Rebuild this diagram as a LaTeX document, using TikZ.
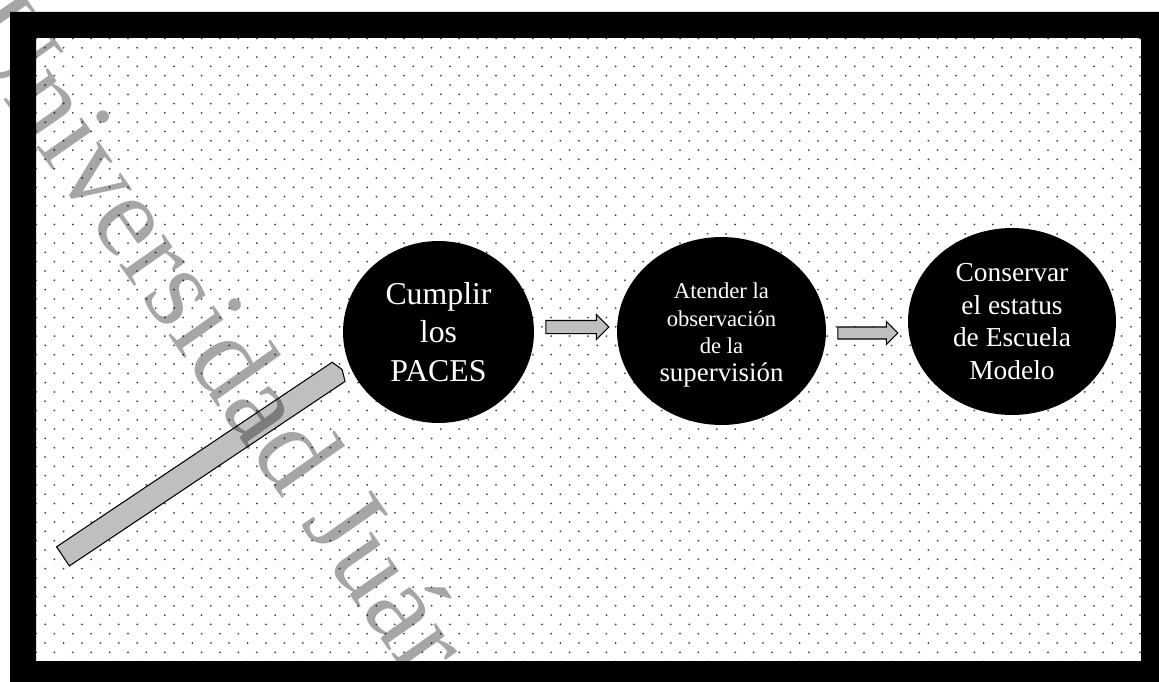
\documentclass[tikz,border=0pt]{standalone}
\usepackage{fontspec}
\setmainfont{Liberation Serif}
\usetikzlibrary{shapes.geometric,shapes.arrows,positioning}

\tikzset{
  stage/.style={ellipse, fill=black, text=white, inner sep=0pt, align=center},
  flowarrow/.style={single arrow, draw=black, line width=0.6pt, fill=black!25,
    inner xsep=0pt, inner ysep=#1, single arrow head extend=#1,
    single arrow tip angle=90, single arrow head indent=0pt},
  dotfill/.style={fill=black!75},
}

\begin{document}
\begin{tikzpicture}[x=0.02cm, y=-0.02cm]
  \clip (0,0) rectangle (1159,682);
  \fill[white] (0,0) rectangle (1159,682);
  % dotted paper
  \foreach \i in {0,...,67} {
    \pgfmathsetmacro{\rowy}{38.5+9.3*\i}
    \pgfmathsetmacro{\rowx}{36+9.2*mod(\i,2)}
    \foreach \j in {0,...,60}
      \fill[dotfill] (\rowx+18.4*\j,\rowy) circle (1.0);
  }
  % frame
  \fill[black, even odd rule] (10,12) rectangle (1175,700) (36,38) rectangle (1141,661);

  \node[flowarrow=0.22cm, single arrow head extend=0pt, single arrow tip angle=140,
    minimum height=6.72cm, rotate=33.8] (bar) at (200.8,464.1) {};

  \node[stage, minimum width=3.82cm, minimum height=3.64cm,
    font=\fontsize{18.1}{22.1}\selectfont] (cumplir) at (438.5,332) {Cumplir\\los\\PACES};
  \node[stage, minimum width=4.18cm, minimum height=3.76cm,
    font=\fontsize{12.9}{15.9}\selectfont] (atender) at (721.5,331)
    {\rule{0pt}{13.5pt}Atender la\\observación\\de la\\{\fontsize{15.3}{18}\selectfont supervisión}};
  \node[stage, minimum width=4.16cm, minimum height=3.74cm,
    font=\fontsize{15.6}{18.7}\selectfont] (conservar) at (1012,321.5)
    {Conservar\\el estatus\\de Escuela\\Modelo};

  \node[flowarrow=0.12cm, minimum height=1.26cm,
    right=0.22cm of cumplir, yshift=0.1cm] (paso1) {};
  \node[flowarrow=0.11cm, minimum height=1.2cm,
    right=0.22cm of atender, yshift=-0.04cm] (paso2) {};

  % watermark
  \node[rotate=-55, opacity=0.35, font=\fontsize{67}{67}\selectfont] (sello) at (216,333)
    {Universidad Juár};
\end{tikzpicture}
\end{document}
